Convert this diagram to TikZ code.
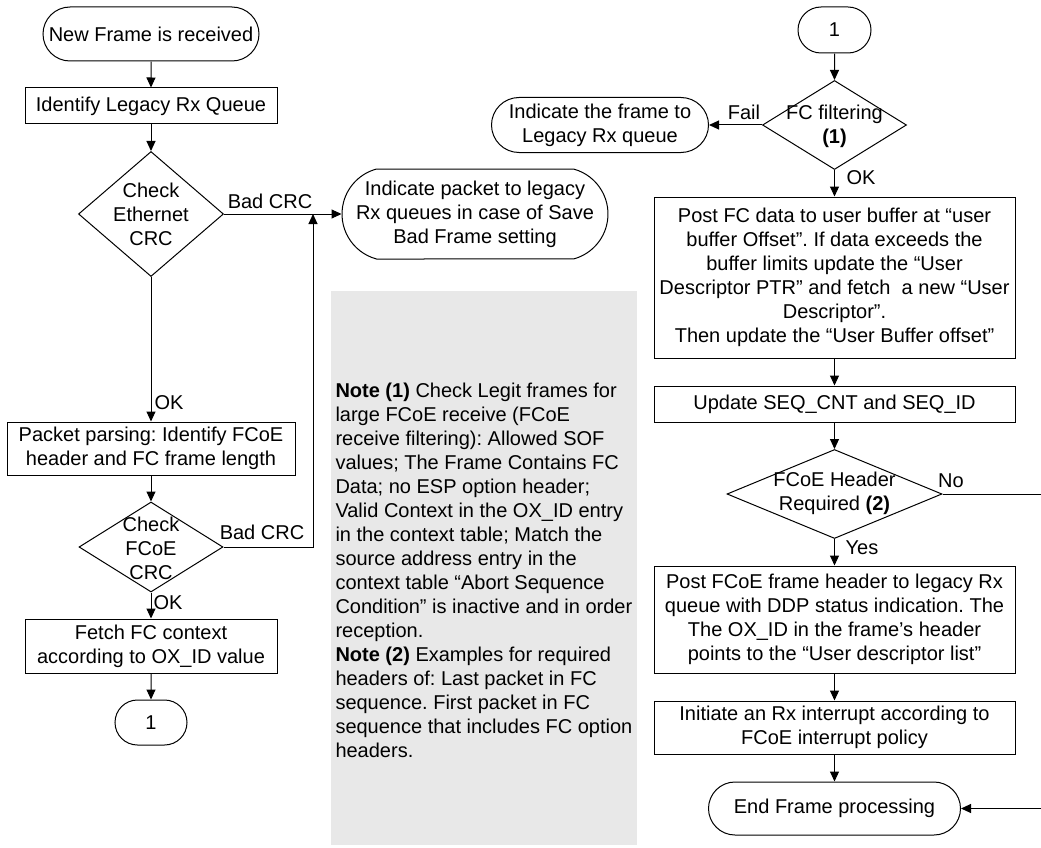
\documentclass[tikz,border=0pt]{standalone}
\usepackage{fontspec}
\setmainfont{Liberation Sans}
\usetikzlibrary{shapes.geometric,shapes.misc,arrows.meta}
\definecolor{notegray}{HTML}{E8E8E8}
\frenchspacing
\begin{document}
\begin{tikzpicture}[x=1pt,y=-1pt,font=\fontsize{20}{24}\selectfont\frenchspacing, line width=1pt,
  box/.style={draw, rectangle, inner sep=0pt, align=center},
  term/.style={draw, rounded rectangle, inner sep=0pt, align=center},
  dia/.style={draw, diamond, inner sep=0pt},
  dtext/.style={inner sep=0pt, align=center},
  arr/.style={-{Triangle[length=10pt,width=9pt]}},
  lbl/.style={inner sep=0pt}]
\useasboundingbox (0,0) rectangle (1041,848);
% note background
\fill[notegray] (331,291) rectangle (637,845);
\node[lbl, anchor=west, align=left] (note) at (335,570) {%
\textbf{Note (1)} Check Legit frames for\\
large FCoE receive (FCoE\\
receive filtering): Allowed SOF\\
values; The Frame Contains FC\\
Data; no ESP option header;\\
Valid Context in the OX\_ID entry\\
in the context table; Match the\\
source address entry in the\\
context table “Abort Sequence\\
Condition” is inactive and in order\\
reception.\\
\textbf{Note (2)} Examples for required\\
headers of: Last packet in FC\\
sequence. First packet in FC\\
sequence that includes FC option\\
headers.};

% left column
\node[term, minimum width=216pt, minimum height=54pt] (start) at (151,34) {New Frame is received};
\node[box, minimum width=252pt, minimum height=36pt] (idq) at (151,106) {Identify Legacy Rx Queue};
\node[dia, minimum width=145pt, minimum height=125pt] (d1) at (151,214) {};
\node[dtext] (d1t) at (151,214) {Check\\Ethernet\\CRC};
\node[term, rounded rectangle arc length=150, minimum width=250pt, minimum height=90pt] (bad) at (475,214) {Indicate packet to legacy\\Rx queues in case of Save\\Bad Frame setting};
\node[box, minimum width=288pt, minimum height=53pt] (parse) at (151,448.5) {Packet parsing: Identify FCoE\\header and FC frame length};
\node[dia, minimum width=144pt, minimum height=90pt] (d2) at (151,547) {};
\node[dtext] (d2t) at (151,548) {Check\\FCoE\\CRC};
\node[box, minimum width=252pt, minimum height=54pt] (fetch) at (151,646) {Fetch FC context\\according to OX\_ID value};
\node[term, minimum width=72pt, minimum height=45pt] (c1) at (151,722.5) {1};
\coordinate (j1) at (313,214);

\draw[arr] (start) -- (idq);
\draw[arr] (idq) -- (d1);
\draw[arr] (d1.east) -- (bad.west);
\draw[arr] (d1.south) -- (parse.north);
\draw[arr] (parse) -- (d2);
\draw[arr] (d2.east) -| (j1);
\draw[arr] (d2.south) -- (fetch.north);
\draw[arr] (fetch) -- (c1);

\node[lbl] (l1) at (270,201) {Bad CRC};
\node[lbl] (l2) at (169,403) {OK};
\node[lbl] (l3) at (262,532) {Bad CRC};
\node[lbl] (l4) at (168,603) {OK};

% right column
\node[term, minimum width=73pt, minimum height=46pt] (c2) at (834.5,30) {1};
\node[dia, minimum width=144pt, minimum height=89pt] (d3) at (834.5,125) {};
\node[dtext] (d3t) at (834.5,126) {FC filtering\\\textbf{(1)}};
\node[term, minimum width=217pt, minimum height=55pt] (fail) at (600,125) {Indicate the frame to\\Legacy Rx queue};
\node[box, minimum width=361pt, minimum height=161pt] (post) at (834.5,277.5) {Post FC data to user buffer at “user\\buffer Offset”. If data exceeds the\\buffer limits update the “User\\Descriptor PTR” and fetch\ \ a new “User\\Descriptor”.\\Then update the “User Buffer offset”};
\node[box, minimum width=361pt, minimum height=36pt] (upd) at (834.5,404) {Update SEQ\_CNT and SEQ\_ID};
\node[dia, minimum width=215pt, minimum height=89pt] (d4) at (834.5,494) {};
\node[dtext] (d4t) at (834.5,493) {FCoE Header\\Required \textbf{(2)}};
\node[box, minimum width=361pt, minimum height=107pt] (post2) at (834.5,619.5) {Post FCoE frame header to legacy Rx\\queue with DDP status indication. The\\The OX\_ID in the frame’s header\\points to the “User descriptor list”};
\node[box, minimum width=361pt, minimum height=53pt] (init) at (834.5,727.5) {Initiate an Rx interrupt according to\\FCoE interrupt policy};
\node[term, minimum width=252pt, minimum height=53pt] (endp) at (834.5,808.5) {End Frame processing};
\coordinate (noend) at (1041,494);
\coordinate (endin) at (1041,808.5);

\draw[arr] (c2) -- (d3);
\draw[arr] (d3.west) -- (fail.east);
\draw[arr] (d3.south) -- (post.north);
\draw[arr] (post) -- (upd);
\draw[arr] (upd) -- (d4);
\draw (d4.east) -- (noend);
\draw[arr] (d4.south) -- (post2.north);
\draw[arr] (post2) -- (init);
\draw[arr] (init) -- (endp);
\draw[arr] (endin) -- (endp.east);

\node[lbl] (l5) at (744,112) {Fail};
\node[lbl] (l6) at (861,178) {OK};
\node[lbl] (l7) at (951,481) {No};
\node[lbl] (l8) at (862,548) {Yes};
\end{tikzpicture}
\end{document}
